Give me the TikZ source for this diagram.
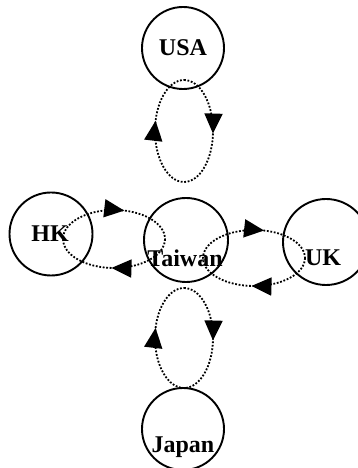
\documentclass[tikz,border=0pt]{standalone}
\usepackage{fontspec}
\setmainfont{Liberation Serif}
\usetikzlibrary{arrows.meta,decorations.markings}

\begin{document}
\begin{tikzpicture}[x=1pt,y=1pt,
    country/.style={circle,draw,line width=1.9pt,minimum size=#1,inner sep=0pt},
    country/.default=82pt,
    cname/.style={font=\fontsize{24}{28}\selectfont\bfseries,inner sep=0pt},
    loop/.style={line width=1.8pt,dash pattern=on 1.8pt off 1.7pt,
        postaction={decorate},
        decoration={markings,
            mark=at position 0.26 with {\arrow{Triangle[length=20pt,width=18pt]}},
            mark=at position 0.79 with {\arrow{Triangle[length=20pt,width=18pt]}}}}]
    %\draw[help lines] (0,0) grid[step=20] (358,468);
    \useasboundingbox (0,0) rectangle (358,468);

    \node[country] (usa) at (183,420) {};
    \node[country=83pt] (hk) at (51,234) {};
    \node[country=84pt] (taiwan) at (186,228) {};
    \node[country=86pt] (uk) at (326,226) {};
    \node[country] (japan) at (183,39) {};

    \node[cname] (usalbl) at (usa.center) {USA};
    \node[cname] (hklbl) at ([xshift=-1pt]hk.center) {HK};
    \node[cname] (taiwanlbl) at ([xshift=-1pt,yshift=-18pt]taiwan.center) {Taiwan};
    \node[cname] (uklbl) at ([xshift=-3pt,yshift=-16pt]uk.center) {UK};
    \node[cname] (japanlbl) at ([yshift=-18pt]japan.center) {Japan};

    % clockwise loops
    \coordinate (usaloop) at (184,337);
    \coordinate (hkloop) at (114,229);
    \coordinate (ukloop) at (254,210);
    \coordinate (japanloop) at (184,130);
    \draw[loop] (usaloop) ++(0,51) arc[start angle=90,end angle=-270,x radius=29,y radius=51];
    \draw[loop] (hkloop) ++(51,0) arc[start angle=0,end angle=-360,x radius=51,y radius=29];
    \draw[loop] (ukloop) ++(51,0) arc[start angle=0,end angle=-360,x radius=51,y radius=28];
    \draw[loop] (japanloop) ++(0,50) arc[start angle=90,end angle=-270,x radius=29,y radius=50];
\end{tikzpicture}
\end{document}
